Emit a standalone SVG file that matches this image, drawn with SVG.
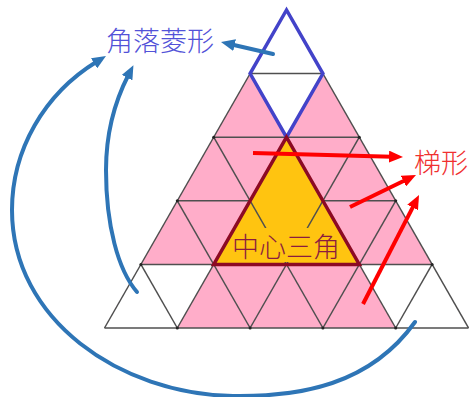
<svg xmlns="http://www.w3.org/2000/svg" width="469" height="397" viewBox="0 0 469 397">
<style>
.grid{stroke:#4f4f4f;stroke-width:1.5;fill:none}
.blue{stroke:#2E75B6;stroke-width:4;fill:none;stroke-linecap:round}
.red{stroke:#FF0000;stroke-width:4;fill:none}
.lbl{font-family:"Noto Sans CJK SC","Noto Sans CJK JP",sans-serif;font-size:27px;font-weight:300}
.dot{fill:#222}
</style>
<defs>
<marker id="ab" viewBox="0 0 14 12" markerWidth="14" markerHeight="12" refX="3" refY="6" orient="auto" markerUnits="userSpaceOnUse"><path d="M0,0 L14,6 L0,12 z" fill="#2E75B6"/></marker>
<marker id="ar" viewBox="0 0 14 12" markerWidth="14" markerHeight="12" refX="3" refY="6" orient="auto" markerUnits="userSpaceOnUse"><path d="M0,0 L14,6 L0,12 z" fill="#FF0000"/></marker>
</defs>
<rect width="469" height="397" fill="#fff"/>
<g id="fills">
<polygon points="250.1,73.6 322.9,73.6 468.5,328 104.5,328" fill="#FFADC9"/>
<polygon points="286.5,10 250.1,73.6 286.5,137.2 322.9,73.6" fill="#fff"/>
<polygon points="140.9,264.4 104.5,328 177.3,328 213.7,264.4" fill="#fff"/>
<polygon points="359.3,264.4 395.7,328 468.5,328 432.1,264.4" fill="#fff"/>
<polygon points="286.5,137.2 213.7,264.4 359.3,264.4" fill="#FFC410"/>
</g>
<g id="grid" class="grid">
<line x1="250.1" y1="73.6" x2="322.9" y2="73.6"/>
<line x1="213.7" y1="137.2" x2="359.3" y2="137.2"/>
<line x1="177.3" y1="200.8" x2="250.1" y2="200.8"/>
<line x1="322.9" y1="200.8" x2="395.7" y2="200.8"/>
<line x1="140.9" y1="264.4" x2="432.1" y2="264.4"/>
<line x1="104.5" y1="328" x2="468.5" y2="328"/>
<line x1="286.5" y1="10" x2="104.5" y2="328"/>
<line x1="322.9" y1="73.6" x2="177.3" y2="328"/>
<line x1="359.3" y1="137.2" x2="250.1" y2="328"/>
<line x1="395.7" y1="200.8" x2="322.9" y2="328"/>
<line x1="432.1" y1="264.4" x2="395.7" y2="328"/>
<line x1="286.5" y1="10" x2="468.5" y2="328"/>
<line x1="250.1" y1="73.6" x2="395.7" y2="328"/>
<line x1="213.7" y1="137.2" x2="322.9" y2="328"/>
<line x1="177.3" y1="200.8" x2="250.1" y2="328"/>
<line x1="140.9" y1="264.4" x2="177.3" y2="328"/>
</g>
<g id="dots" class="dot">
<circle cx="213.7" cy="137.2" r="1.5"/><circle cx="359.3" cy="137.2" r="1.5"/>
<circle cx="177.3" cy="200.8" r="1.5"/><circle cx="395.7" cy="200.8" r="1.5"/>
<circle cx="140.9" cy="264.4" r="1.5"/><circle cx="432.1" cy="264.4" r="1.5"/>
<circle cx="177.3" cy="328" r="1.5"/><circle cx="250.1" cy="328" r="1.5"/>
<circle cx="322.9" cy="328" r="1.5"/><circle cx="395.7" cy="328" r="1.5"/>
</g>
<g id="corner-rhombus">
<polygon points="286.5,10 250.1,73.6 286.5,137.2 322.9,73.6" fill="none" stroke="#4343C9" stroke-width="3.5" stroke-linejoin="miter"/>
</g>
<g id="center-triangle">
<rect x="240" y="228" width="94" height="34" fill="#FFC410"/>
<polygon points="286.5,137.2 213.7,264.4 359.3,264.4" fill="none" stroke="#8C0A24" stroke-width="3.5"/>
<text class="lbl" x="232" y="257" fill="#8B1C3F">中心三角</text>
</g>
<g id="label-corner">
<text class="lbl" x="106" y="51" fill="#5252D8">角落菱形</text>
</g>
<g id="label-trapezoid">
<text class="lbl" x="414" y="173" fill="#F03030">梯形</text>
</g>
<g id="connectors">
<path class="blue" d="M273,54 L231.7,44.5" marker-end="url(#ab)"/>
<path class="blue" d="M137,292 C118,270 106,225 106,170 C106,135 114,103 128.4,75" marker-end="url(#ab)"/>
<path class="blue" d="M415,322 C370,385 300,397 233,396 C120,394 12,320 12,210 C12,150 44,94 96.6,61.7" marker-end="url(#ab)"/>
<path class="red" d="M253,153 L392,156.7" marker-end="url(#ar)"/>
<path class="red" d="M350,207 L406.1,179.8" marker-end="url(#ar)"/>
<path class="red" d="M363,304 L414,204.8" marker-end="url(#ar)"/>
</g>
</svg>
